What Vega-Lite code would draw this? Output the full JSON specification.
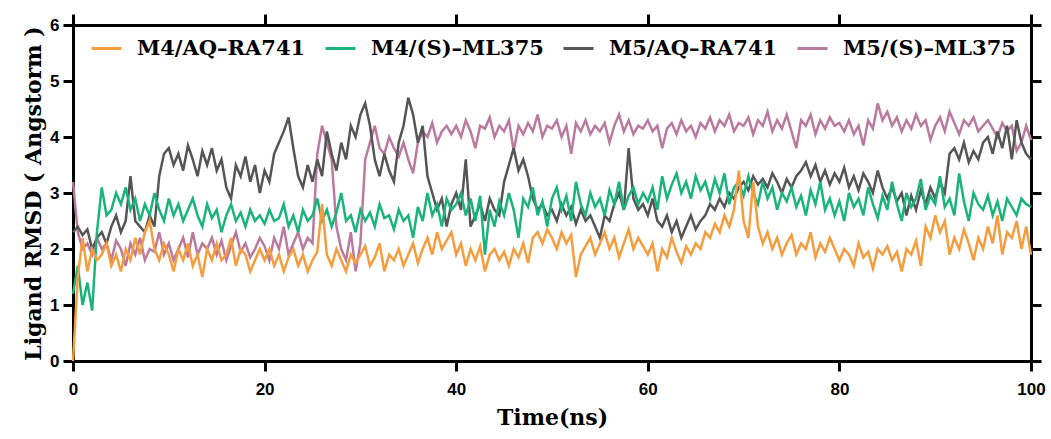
{
"$schema": "https://vega.github.io/schema/vega-lite/v6.json",
"width": 958, "height": 336,
"autosize": {"type": "none"},
"padding": {"left": 73, "top": 25, "right": 20, "bottom": 78},
"background": "white",
"config": {"view": {"stroke": null}, "axis": {"grid": false, "ticks": true}},
"datasets": {
"P": [{"t":0,"v":3.2},{"t":0.5,"v":2.3},{"t":1,"v":2.0},{"t":1.5,"v":2.1},{"t":2,"v":1.9},{"t":2.5,"v":2.2},{"t":3,"v":2.0},{"t":3.5,"v":2.1},{"t":4,"v":1.8},{"t":4.5,"v":2.15},
{"t":5,"v":2.0},{"t":5.5,"v":1.7},{"t":6,"v":2.1},{"t":6.5,"v":1.9},{"t":7,"v":2.2},{"t":7.5,"v":1.8},{"t":8,"v":2.0},{"t":8.5,"v":1.95},{"t":9,"v":2.3},{"t":9.5,"v":1.9},
{"t":10,"v":2.1},{"t":10.5,"v":1.8},{"t":11,"v":2.0},{"t":11.5,"v":2.2},{"t":12,"v":1.85},{"t":12.5,"v":2.3},{"t":13,"v":1.9},{"t":13.5,"v":2.1},{"t":14,"v":2.0},{"t":14.5,"v":2.2},
{"t":15,"v":1.9},{"t":15.5,"v":2.15},{"t":16,"v":1.8},{"t":16.5,"v":2.05},{"t":17,"v":2.3},{"t":17.5,"v":1.95},{"t":18,"v":2.1},{"t":18.5,"v":1.85},{"t":19,"v":2.0},{"t":19.5,"v":2.2},
{"t":20,"v":2.05},{"t":20.5,"v":1.8},{"t":21,"v":2.2},{"t":21.5,"v":2.0},{"t":22,"v":2.4},{"t":22.5,"v":1.9},{"t":23,"v":2.1},{"t":23.5,"v":2.3},{"t":24,"v":2.0},{"t":24.5,"v":2.2},
{"t":25,"v":2.1},{"t":25.5,"v":3.7},{"t":26,"v":4.2},{"t":26.5,"v":3.9},{"t":27,"v":3.6},{"t":27.5,"v":2.4},{"t":28,"v":2.0},{"t":28.5,"v":1.8},{"t":29,"v":2.3},{"t":29.5,"v":1.6},
{"t":30,"v":2.1},{"t":30.5,"v":3.6},{"t":31,"v":3.9},{"t":31.5,"v":4.2},{"t":32,"v":3.8},{"t":32.5,"v":3.7},{"t":33,"v":4.0},{"t":33.5,"v":3.8},{"t":34,"v":3.65},{"t":34.5,"v":3.9},
{"t":35,"v":3.6},{"t":35.5,"v":3.35},{"t":36,"v":3.9},{"t":36.5,"v":4.1},{"t":37,"v":4.0},{"t":37.5,"v":4.25},{"t":38,"v":3.9},{"t":38.5,"v":4.1},{"t":39,"v":4.2},{"t":39.5,"v":4.05},
{"t":40,"v":4.2},{"t":40.5,"v":4.0},{"t":41,"v":4.3},{"t":41.5,"v":4.1},{"t":42,"v":3.8},{"t":42.5,"v":4.2},{"t":43,"v":4.15},{"t":43.5,"v":4.35},{"t":44,"v":4.0},{"t":44.5,"v":4.2},
{"t":45,"v":4.1},{"t":45.5,"v":4.3},{"t":46,"v":3.75},{"t":46.5,"v":4.2},{"t":47,"v":4.05},{"t":47.5,"v":4.25},{"t":48,"v":4.1},{"t":48.5,"v":4.4},{"t":49,"v":4.0},{"t":49.5,"v":4.2},
{"t":50,"v":4.15},{"t":50.5,"v":4.3},{"t":51,"v":4.0},{"t":51.5,"v":4.2},{"t":52,"v":3.7},{"t":52.5,"v":4.25},{"t":53,"v":4.1},{"t":53.5,"v":4.3},{"t":54,"v":4.05},{"t":54.5,"v":4.2},
{"t":55,"v":4.1},{"t":55.5,"v":4.25},{"t":56,"v":3.9},{"t":56.5,"v":4.2},{"t":57,"v":4.4},{"t":57.5,"v":4.1},{"t":58,"v":4.3},{"t":58.5,"v":4.05},{"t":59,"v":4.2},{"t":59.5,"v":4.15},
{"t":60,"v":4.3},{"t":60.5,"v":4.1},{"t":61,"v":4.2},{"t":61.5,"v":3.8},{"t":62,"v":4.15},{"t":62.5,"v":4.25},{"t":63,"v":4.05},{"t":63.5,"v":4.3},{"t":64,"v":4.1},{"t":64.5,"v":4.2},
{"t":65,"v":4.0},{"t":65.5,"v":4.25},{"t":66,"v":4.15},{"t":66.5,"v":4.35},{"t":67,"v":4.1},{"t":67.5,"v":4.3},{"t":68,"v":4.2},{"t":68.5,"v":4.4},{"t":69,"v":4.1},{"t":69.5,"v":4.25},
{"t":70,"v":4.2},{"t":70.5,"v":4.35},{"t":71,"v":4.05},{"t":71.5,"v":4.3},{"t":72,"v":4.2},{"t":72.5,"v":4.45},{"t":73,"v":4.1},{"t":73.5,"v":4.3},{"t":74,"v":4.15},{"t":74.5,"v":4.4},
{"t":75,"v":4.1},{"t":75.5,"v":3.8},{"t":76,"v":4.3},{"t":76.5,"v":4.2},{"t":77,"v":4.4},{"t":77.5,"v":4.05},{"t":78,"v":4.3},{"t":78.5,"v":4.15},{"t":79,"v":4.35},{"t":79.5,"v":4.2},
{"t":80,"v":4.25},{"t":80.5,"v":4.1},{"t":81,"v":4.3},{"t":81.5,"v":4.05},{"t":82,"v":4.2},{"t":82.5,"v":3.85},{"t":83,"v":4.3},{"t":83.5,"v":4.15},{"t":84,"v":4.6},{"t":84.5,"v":4.3},
{"t":85,"v":4.45},{"t":85.5,"v":4.2},{"t":86,"v":4.35},{"t":86.5,"v":4.1},{"t":87,"v":4.3},{"t":87.5,"v":4.15},{"t":88,"v":4.4},{"t":88.5,"v":4.2},{"t":89,"v":4.3},{"t":89.5,"v":3.95},
{"t":90,"v":4.2},{"t":90.5,"v":4.35},{"t":91,"v":4.1},{"t":91.5,"v":4.45},{"t":92,"v":4.25},{"t":92.5,"v":4.05},{"t":93,"v":4.3},{"t":93.5,"v":4.2},{"t":94,"v":4.35},{"t":94.5,"v":4.1},
{"t":95,"v":4.2},{"t":95.5,"v":4.3},{"t":96,"v":4.15},{"t":96.5,"v":4.0},{"t":97,"v":4.25},{"t":97.5,"v":4.1},{"t":98,"v":4.2},{"t":98.5,"v":3.75},{"t":99,"v":3.9},{"t":99.5,"v":4.2},
{"t":100,"v":3.95}],
"Y": [{"t":0,"v":2.3},{"t":0.5,"v":2.4},{"t":1,"v":2.25},{"t":1.5,"v":2.35},{"t":2,"v":2.0},{"t":2.5,"v":2.2},{"t":3,"v":2.3},{"t":3.5,"v":2.1},{"t":4,"v":2.4},{"t":4.5,"v":2.6},
{"t":5,"v":2.3},{"t":5.5,"v":2.5},{"t":6,"v":3.3},{"t":6.5,"v":2.5},{"t":7,"v":2.4},{"t":7.5,"v":2.3},{"t":8,"v":2.6},{"t":8.5,"v":2.4},{"t":9,"v":3.3},{"t":9.5,"v":3.7},
{"t":10,"v":3.8},{"t":10.5,"v":3.5},{"t":11,"v":3.7},{"t":11.5,"v":3.4},{"t":12,"v":3.85},{"t":12.5,"v":3.6},{"t":13,"v":3.3},{"t":13.5,"v":3.75},{"t":14,"v":3.5},{"t":14.5,"v":3.8},
{"t":15,"v":3.4},{"t":15.5,"v":3.6},{"t":16,"v":3.1},{"t":16.5,"v":2.9},{"t":17,"v":3.5},{"t":17.5,"v":3.3},{"t":18,"v":3.65},{"t":18.5,"v":3.2},{"t":19,"v":3.5},{"t":19.5,"v":3.0},
{"t":20,"v":3.4},{"t":20.5,"v":3.2},{"t":21,"v":3.7},{"t":21.5,"v":3.9},{"t":22,"v":4.1},{"t":22.5,"v":4.35},{"t":23,"v":3.8},{"t":23.5,"v":3.3},{"t":24,"v":3.1},{"t":24.5,"v":3.5},
{"t":25,"v":3.2},{"t":25.5,"v":3.6},{"t":26,"v":3.3},{"t":26.5,"v":4.1},{"t":27,"v":3.7},{"t":27.5,"v":3.4},{"t":28,"v":3.9},{"t":28.5,"v":3.6},{"t":29,"v":4.2},{"t":29.5,"v":4.0},
{"t":30,"v":4.4},{"t":30.5,"v":4.6},{"t":31,"v":4.2},{"t":31.5,"v":3.6},{"t":32,"v":3.3},{"t":32.5,"v":3.7},{"t":33,"v":3.4},{"t":33.5,"v":3.2},{"t":34,"v":3.9},{"t":34.5,"v":4.2},
{"t":35,"v":4.7},{"t":35.5,"v":4.4},{"t":36,"v":3.9},{"t":36.5,"v":4.2},{"t":37,"v":3.3},{"t":37.5,"v":3.0},{"t":38,"v":2.7},{"t":38.5,"v":2.9},{"t":39,"v":2.4},{"t":39.5,"v":2.8},
{"t":40,"v":3.0},{"t":40.5,"v":2.7},{"t":41,"v":3.6},{"t":41.5,"v":2.4},{"t":42,"v":2.6},{"t":42.5,"v":2.8},{"t":43,"v":2.5},{"t":43.5,"v":2.9},{"t":44,"v":2.7},{"t":44.5,"v":2.6},
{"t":45,"v":3.2},{"t":45.5,"v":3.5},{"t":46,"v":3.8},{"t":46.5,"v":3.4},{"t":47,"v":3.6},{"t":47.5,"v":3.3},{"t":48,"v":2.9},{"t":48.5,"v":2.7},{"t":49,"v":2.8},{"t":49.5,"v":2.6},
{"t":50,"v":2.7},{"t":50.5,"v":2.5},{"t":51,"v":2.8},{"t":51.5,"v":2.6},{"t":52,"v":2.75},{"t":52.5,"v":2.45},{"t":53,"v":2.7},{"t":53.5,"v":2.5},{"t":54,"v":2.6},{"t":54.5,"v":2.4},
{"t":55,"v":2.2},{"t":55.5,"v":2.6},{"t":56,"v":2.5},{"t":56.5,"v":2.8},{"t":57,"v":3.0},{"t":57.5,"v":2.7},{"t":58,"v":3.8},{"t":58.5,"v":2.9},{"t":59,"v":2.7},{"t":59.5,"v":2.8},
{"t":60,"v":2.6},{"t":60.5,"v":2.9},{"t":61,"v":2.5},{"t":61.5,"v":2.4},{"t":62,"v":2.6},{"t":62.5,"v":2.3},{"t":63,"v":2.5},{"t":63.5,"v":2.2},{"t":64,"v":2.4},{"t":64.5,"v":2.6},
{"t":65,"v":2.35},{"t":65.5,"v":2.5},{"t":66,"v":2.6},{"t":66.5,"v":2.8},{"t":67,"v":2.7},{"t":67.5,"v":2.9},{"t":68,"v":2.75},{"t":68.5,"v":3.0},{"t":69,"v":2.9},{"t":69.5,"v":3.1},
{"t":70,"v":3.2},{"t":70.5,"v":3.05},{"t":71,"v":3.3},{"t":71.5,"v":3.15},{"t":72,"v":3.25},{"t":72.5,"v":3.1},{"t":73,"v":3.35},{"t":73.5,"v":3.2},{"t":74,"v":3.0},{"t":74.5,"v":3.25},
{"t":75,"v":3.1},{"t":75.5,"v":3.3},{"t":76,"v":3.4},{"t":76.5,"v":3.55},{"t":77,"v":3.3},{"t":77.5,"v":3.5},{"t":78,"v":3.2},{"t":78.5,"v":3.4},{"t":79,"v":3.15},{"t":79.5,"v":3.35},
{"t":80,"v":3.2},{"t":80.5,"v":3.45},{"t":81,"v":3.1},{"t":81.5,"v":3.3},{"t":82,"v":3.05},{"t":82.5,"v":3.35},{"t":83,"v":3.2},{"t":83.5,"v":3.0},{"t":84,"v":3.4},{"t":84.5,"v":3.1},
{"t":85,"v":2.9},{"t":85.5,"v":3.1},{"t":86,"v":2.85},{"t":86.5,"v":3.0},{"t":87,"v":2.6},{"t":87.5,"v":2.95},{"t":88,"v":2.7},{"t":88.5,"v":3.05},{"t":89,"v":2.8},{"t":89.5,"v":3.1},
{"t":90,"v":2.9},{"t":90.5,"v":3.2},{"t":91,"v":3.0},{"t":91.5,"v":3.7},{"t":92,"v":3.8},{"t":92.5,"v":3.6},{"t":93,"v":3.9},{"t":93.5,"v":3.55},{"t":94,"v":3.75},{"t":94.5,"v":3.6},
{"t":95,"v":3.9},{"t":95.5,"v":4.0},{"t":96,"v":3.7},{"t":96.5,"v":4.1},{"t":97,"v":3.8},{"t":97.5,"v":4.2},{"t":98,"v":3.6},{"t":98.5,"v":4.3},{"t":99,"v":3.9},{"t":99.5,"v":3.7},
{"t":100,"v":3.6}],
"G": [{"t":0,"v":1.2},{"t":0.5,"v":1.7},{"t":1,"v":1.0},{"t":1.5,"v":1.4},{"t":2,"v":0.9},{"t":2.5,"v":2.3},{"t":3,"v":3.1},{"t":3.5,"v":2.6},{"t":4,"v":2.7},{"t":4.5,"v":3.0},
{"t":5,"v":2.8},{"t":5.5,"v":3.1},{"t":6,"v":2.7},{"t":6.5,"v":2.9},{"t":7,"v":2.5},{"t":7.5,"v":2.8},{"t":8,"v":2.6},{"t":8.5,"v":3.0},{"t":9,"v":2.7},{"t":9.5,"v":2.5},
{"t":10,"v":2.9},{"t":10.5,"v":2.6},{"t":11,"v":2.8},{"t":11.5,"v":2.5},{"t":12,"v":2.7},{"t":12.5,"v":2.9},{"t":13,"v":2.6},{"t":13.5,"v":2.4},{"t":14,"v":2.8},{"t":14.5,"v":2.55},
{"t":15,"v":2.7},{"t":15.5,"v":2.3},{"t":16,"v":2.6},{"t":16.5,"v":2.8},{"t":17,"v":2.5},{"t":17.5,"v":2.65},{"t":18,"v":2.4},{"t":18.5,"v":2.7},{"t":19,"v":2.5},{"t":19.5,"v":2.6},
{"t":20,"v":2.45},{"t":20.5,"v":2.7},{"t":21,"v":2.5},{"t":21.5,"v":2.55},{"t":22,"v":2.8},{"t":22.5,"v":2.4},{"t":23,"v":2.6},{"t":23.5,"v":2.3},{"t":24,"v":2.7},{"t":24.5,"v":2.5},
{"t":25,"v":2.6},{"t":25.5,"v":2.9},{"t":26,"v":2.5},{"t":26.5,"v":2.7},{"t":27,"v":2.4},{"t":27.5,"v":2.65},{"t":28,"v":3.0},{"t":28.5,"v":2.5},{"t":29,"v":2.6},{"t":29.5,"v":2.3},
{"t":30,"v":2.7},{"t":30.5,"v":2.5},{"t":31,"v":2.65},{"t":31.5,"v":2.4},{"t":32,"v":2.8},{"t":32.5,"v":2.55},{"t":33,"v":2.6},{"t":33.5,"v":2.35},{"t":34,"v":2.7},{"t":34.5,"v":2.5},
{"t":35,"v":2.6},{"t":35.5,"v":2.2},{"t":36,"v":2.75},{"t":36.5,"v":2.5},{"t":37,"v":3.0},{"t":37.5,"v":2.6},{"t":38,"v":2.8},{"t":38.5,"v":2.4},{"t":39,"v":2.9},{"t":39.5,"v":2.7},
{"t":40,"v":2.8},{"t":40.5,"v":3.0},{"t":41,"v":2.6},{"t":41.5,"v":2.9},{"t":42,"v":2.5},{"t":42.5,"v":2.95},{"t":43,"v":1.9},{"t":43.5,"v":2.7},{"t":44,"v":2.4},{"t":44.5,"v":2.85},
{"t":45,"v":2.6},{"t":45.5,"v":3.0},{"t":46,"v":2.7},{"t":46.5,"v":2.2},{"t":47,"v":2.9},{"t":47.5,"v":2.75},{"t":48,"v":3.1},{"t":48.5,"v":2.6},{"t":49,"v":2.85},{"t":49.5,"v":2.4},
{"t":50,"v":2.9},{"t":50.5,"v":3.1},{"t":51,"v":2.7},{"t":51.5,"v":2.95},{"t":52,"v":2.5},{"t":52.5,"v":3.2},{"t":53,"v":2.8},{"t":53.5,"v":2.6},{"t":54,"v":3.0},{"t":54.5,"v":2.75},
{"t":55,"v":2.9},{"t":55.5,"v":2.6},{"t":56,"v":3.05},{"t":56.5,"v":2.8},{"t":57,"v":3.2},{"t":57.5,"v":2.7},{"t":58,"v":2.95},{"t":58.5,"v":3.1},{"t":59,"v":2.8},{"t":59.5,"v":3.0},
{"t":60,"v":2.85},{"t":60.5,"v":3.1},{"t":61,"v":2.7},{"t":61.5,"v":3.3},{"t":62,"v":2.9},{"t":62.5,"v":3.15},{"t":63,"v":3.35},{"t":63.5,"v":3.0},{"t":64,"v":3.2},{"t":64.5,"v":2.9},
{"t":65,"v":3.3},{"t":65.5,"v":3.05},{"t":66,"v":3.2},{"t":66.5,"v":2.9},{"t":67,"v":3.25},{"t":67.5,"v":3.0},{"t":68,"v":3.35},{"t":68.5,"v":2.8},{"t":69,"v":3.1},{"t":69.5,"v":3.2},
{"t":70,"v":2.95},{"t":70.5,"v":3.3},{"t":71,"v":3.0},{"t":71.5,"v":2.8},{"t":72,"v":3.2},{"t":72.5,"v":2.9},{"t":73,"v":3.1},{"t":73.5,"v":2.7},{"t":74,"v":3.0},{"t":74.5,"v":2.85},
{"t":75,"v":3.1},{"t":75.5,"v":2.75},{"t":76,"v":2.95},{"t":76.5,"v":2.6},{"t":77,"v":3.05},{"t":77.5,"v":2.8},{"t":78,"v":3.2},{"t":78.5,"v":2.7},{"t":79,"v":2.9},{"t":79.5,"v":2.6},
{"t":80,"v":2.85},{"t":80.5,"v":2.5},{"t":81,"v":3.0},{"t":81.5,"v":2.75},{"t":82,"v":2.9},{"t":82.5,"v":2.6},{"t":83,"v":3.1},{"t":83.5,"v":2.8},{"t":84,"v":2.55},{"t":84.5,"v":2.95},
{"t":85,"v":2.7},{"t":85.5,"v":3.2},{"t":86,"v":2.8},{"t":86.5,"v":2.5},{"t":87,"v":3.0},{"t":87.5,"v":2.75},{"t":88,"v":2.9},{"t":88.5,"v":3.25},{"t":89,"v":2.7},{"t":89.5,"v":2.95},
{"t":90,"v":2.8},{"t":90.5,"v":3.3},{"t":91,"v":2.75},{"t":91.5,"v":2.9},{"t":92,"v":2.6},{"t":92.5,"v":3.35},{"t":93,"v":2.85},{"t":93.5,"v":2.5},{"t":94,"v":3.0},{"t":94.5,"v":2.8},
{"t":95,"v":2.7},{"t":95.5,"v":2.95},{"t":96,"v":2.6},{"t":96.5,"v":2.85},{"t":97,"v":2.5},{"t":97.5,"v":2.9},{"t":98,"v":2.75},{"t":98.5,"v":2.6},{"t":99,"v":2.9},{"t":99.5,"v":2.8},
{"t":100,"v":2.75}],
"O": [{"t":0,"v":0},{"t":0.5,"v":1.5},{"t":1,"v":2.2},{"t":1.5,"v":1.6},{"t":2,"v":2.0},{"t":2.5,"v":1.8},{"t":3,"v":1.9},{"t":3.5,"v":2.1},{"t":4,"v":1.7},{"t":4.5,"v":1.9},
{"t":5,"v":1.6},{"t":5.5,"v":2.0},{"t":6,"v":1.8},{"t":6.5,"v":2.2},{"t":7,"v":1.9},{"t":7.5,"v":2.3},{"t":8,"v":2.5},{"t":8.5,"v":2.0},{"t":9,"v":1.8},{"t":9.5,"v":2.1},
{"t":10,"v":1.9},{"t":10.5,"v":1.6},{"t":11,"v":2.0},{"t":11.5,"v":1.8},{"t":12,"v":2.1},{"t":12.5,"v":1.7},{"t":13,"v":1.9},{"t":13.5,"v":1.5},{"t":14,"v":2.0},{"t":14.5,"v":1.8},
{"t":15,"v":2.1},{"t":15.5,"v":1.8},{"t":16,"v":1.9},{"t":16.5,"v":2.2},{"t":17,"v":1.7},{"t":17.5,"v":2.0},{"t":18,"v":1.9},{"t":18.5,"v":1.6},{"t":19,"v":1.8},{"t":19.5,"v":2.0},
{"t":20,"v":1.8},{"t":20.5,"v":2.0},{"t":21,"v":1.7},{"t":21.5,"v":1.9},{"t":22,"v":1.6},{"t":22.5,"v":1.85},{"t":23,"v":2.0},{"t":23.5,"v":1.7},{"t":24,"v":1.9},{"t":24.5,"v":1.6},
{"t":25,"v":1.8},{"t":25.5,"v":1.95},{"t":26,"v":2.8},{"t":26.5,"v":1.9},{"t":27,"v":1.7},{"t":27.5,"v":2.0},{"t":28,"v":1.8},{"t":28.5,"v":1.6},{"t":29,"v":1.9},{"t":29.5,"v":1.75},
{"t":30,"v":1.9},{"t":30.5,"v":2.05},{"t":31,"v":1.7},{"t":31.5,"v":1.85},{"t":32,"v":2.1},{"t":32.5,"v":1.6},{"t":33,"v":1.9},{"t":33.5,"v":1.8},{"t":34,"v":2.0},{"t":34.5,"v":1.7},
{"t":35,"v":1.9},{"t":35.5,"v":2.1},{"t":36,"v":1.75},{"t":36.5,"v":2.0},{"t":37,"v":2.2},{"t":37.5,"v":1.9},{"t":38,"v":2.3},{"t":38.5,"v":2.0},{"t":39,"v":2.15},{"t":39.5,"v":2.3},
{"t":40,"v":1.9},{"t":40.5,"v":2.1},{"t":41,"v":1.7},{"t":41.5,"v":2.0},{"t":42,"v":1.8},{"t":42.5,"v":2.05},{"t":43,"v":1.6},{"t":43.5,"v":1.9},{"t":44,"v":2.0},{"t":44.5,"v":1.8},
{"t":45,"v":1.95},{"t":45.5,"v":1.7},{"t":46,"v":2.0},{"t":46.5,"v":1.85},{"t":47,"v":2.1},{"t":47.5,"v":1.75},{"t":48,"v":2.2},{"t":48.5,"v":2.3},{"t":49,"v":2.1},{"t":49.5,"v":2.35},
{"t":50,"v":2.2},{"t":50.5,"v":2.0},{"t":51,"v":2.3},{"t":51.5,"v":2.1},{"t":52,"v":2.25},{"t":52.5,"v":1.5},{"t":53,"v":1.9},{"t":53.5,"v":2.05},{"t":54,"v":2.2},{"t":54.5,"v":1.9},
{"t":55,"v":2.1},{"t":55.5,"v":2.3},{"t":56,"v":2.0},{"t":56.5,"v":2.2},{"t":57,"v":1.85},{"t":57.5,"v":2.1},{"t":58,"v":2.35},{"t":58.5,"v":2.0},{"t":59,"v":2.2},{"t":59.5,"v":2.05},
{"t":60,"v":1.9},{"t":60.5,"v":2.1},{"t":61,"v":1.6},{"t":61.5,"v":2.0},{"t":62,"v":1.85},{"t":62.5,"v":2.2},{"t":63,"v":1.95},{"t":63.5,"v":1.75},{"t":64,"v":2.05},{"t":64.5,"v":1.9},
{"t":65,"v":2.1},{"t":65.5,"v":2.0},{"t":66,"v":2.3},{"t":66.5,"v":2.2},{"t":67,"v":2.45},{"t":67.5,"v":2.3},{"t":68,"v":2.6},{"t":68.5,"v":2.4},{"t":69,"v":2.7},{"t":69.5,"v":3.4},
{"t":70,"v":2.5},{"t":70.5,"v":2.2},{"t":71,"v":3.2},{"t":71.5,"v":2.4},{"t":72,"v":2.1},{"t":72.5,"v":2.3},{"t":73,"v":2.0},{"t":73.5,"v":2.2},{"t":74,"v":1.9},{"t":74.5,"v":2.1},
{"t":75,"v":2.25},{"t":75.5,"v":1.9},{"t":76,"v":2.1},{"t":76.5,"v":2.0},{"t":77,"v":2.3},{"t":77.5,"v":1.85},{"t":78,"v":2.1},{"t":78.5,"v":1.95},{"t":79,"v":2.2},{"t":79.5,"v":2.0},
{"t":80,"v":1.8},{"t":80.5,"v":2.0},{"t":81,"v":1.9},{"t":81.5,"v":1.7},{"t":82,"v":2.1},{"t":82.5,"v":1.85},{"t":83,"v":1.95},{"t":83.5,"v":1.65},{"t":84,"v":2.0},{"t":84.5,"v":1.9},
{"t":85,"v":2.05},{"t":85.5,"v":1.8},{"t":86,"v":1.95},{"t":86.5,"v":1.6},{"t":87,"v":2.0},{"t":87.5,"v":1.9},{"t":88,"v":2.15},{"t":88.5,"v":1.7},{"t":89,"v":2.4},{"t":89.5,"v":2.2},
{"t":90,"v":2.6},{"t":90.5,"v":2.3},{"t":91,"v":2.5},{"t":91.5,"v":1.9},{"t":92,"v":2.2},{"t":92.5,"v":2.0},{"t":93,"v":2.35},{"t":93.5,"v":2.1},{"t":94,"v":1.8},{"t":94.5,"v":2.2},
{"t":95,"v":2.0},{"t":95.5,"v":2.4},{"t":96,"v":2.1},{"t":96.5,"v":2.6},{"t":97,"v":1.9},{"t":97.5,"v":2.3},{"t":98,"v":2.2},{"t":98.5,"v":2.5},{"t":99,"v":2.0},{"t":99.5,"v":2.4},
{"t":100,"v":1.9}]
},
"layer": [
{"data": {"name": "P"}, "mark": {"type": "line", "strokeWidth": 2.5},
 "encoding": {
  "x": {"field": "t", "type": "quantitative", "scale": {"domain": [0, 100], "nice": false},
   "axis": {"orient": "bottom", "values": [0,20,40,60,80,100], "tickSize": 10, "tickWidth": 3, "tickColor": "black",
    "domainWidth": 3, "domainColor": "black", "labelFont": "Liberation Sans", "labelFontWeight": "bold", "labelFontSize": 17, "labelColor": "black",
    "labelPadding": 10, "labelFlush": false, "title": "Time(ns)", "titleFont": "DejaVu Serif", "titleFontSize": 22, "titleFontWeight": "bold", "titleColor": "black", "titlePadding": 10}},
  "y": {"field": "v", "type": "quantitative", "scale": {"domain": [0, 6], "nice": false},
   "axis": {"orient": "left", "values": [0,1,2,3,4,5,6], "tickSize": 10, "tickWidth": 3, "tickColor": "black",
    "domainWidth": 3, "domainColor": "black", "labelFont": "Liberation Sans", "labelFontWeight": "bold", "labelFontSize": 17, "labelColor": "black",
    "labelPadding": 4, "title": "Ligand RMSD ( Angstorm )", "titleFont": "DejaVu Serif", "titleFontSize": 22, "titleFontWeight": "bold", "titleColor": "black", "titlePadding": 4}},
  "color": {"datum": "M5/(S)–ML375", "type": "nominal",
   "scale": {"domain": ["M4/AQ–RA741", "M4/(S)–ML375", "M5/AQ–RA741", "M5/(S)–ML375"], "range": ["#F59D3E", "#1AB47A", "#555555", "#BA7AA0"]},
   "legend": {"orient": "none", "legendX": 17, "legendY": 7, "direction": "horizontal", "columns": 4, "gridAlign": "none", "title": null, "symbolType": "stroke", "symbolSize": 900, "symbolStrokeWidth": 3,
    "labelFont": "DejaVu Serif", "labelFontWeight": "bold", "labelFontSize": 21, "labelColor": "black", "labelLimit": 0, "labelOffset": 14, "columnPadding": 13, "padding": 0}}
 }},
{"data": {"name": "Y"}, "mark": {"type": "line", "strokeWidth": 2.5},
 "encoding": {
  "x": {"field": "t", "type": "quantitative",
   "axis": {"orient": "top", "values": [0,20,40,60,80,100], "labels": false, "title": null, "tickSize": 11, "tickWidth": 3, "tickColor": "black", "domainWidth": 3, "domainColor": "black"}},
  "y": {"field": "v", "type": "quantitative",
   "axis": {"orient": "right", "values": [0,1,2,3,4,5,6], "labels": false, "title": null, "tickSize": 10, "tickWidth": 3, "tickColor": "black", "domainWidth": 3, "domainColor": "black"}},
  "color": {"datum": "M5/AQ–RA741", "type": "nominal"}
 }},
{"data": {"name": "G"}, "mark": {"type": "line", "strokeWidth": 2.5},
 "encoding": {
  "x": {"field": "t", "type": "quantitative", "axis": null},
  "y": {"field": "v", "type": "quantitative", "axis": null},
  "color": {"datum": "M4/(S)–ML375", "type": "nominal"}
 }},
{"data": {"name": "O"}, "mark": {"type": "line", "strokeWidth": 2.5},
 "encoding": {
  "x": {"field": "t", "type": "quantitative", "axis": null},
  "y": {"field": "v", "type": "quantitative", "axis": null},
  "color": {"datum": "M4/AQ–RA741", "type": "nominal"}
 }}
],
"resolve": {"axis": {"x": "independent", "y": "independent"}}
}
